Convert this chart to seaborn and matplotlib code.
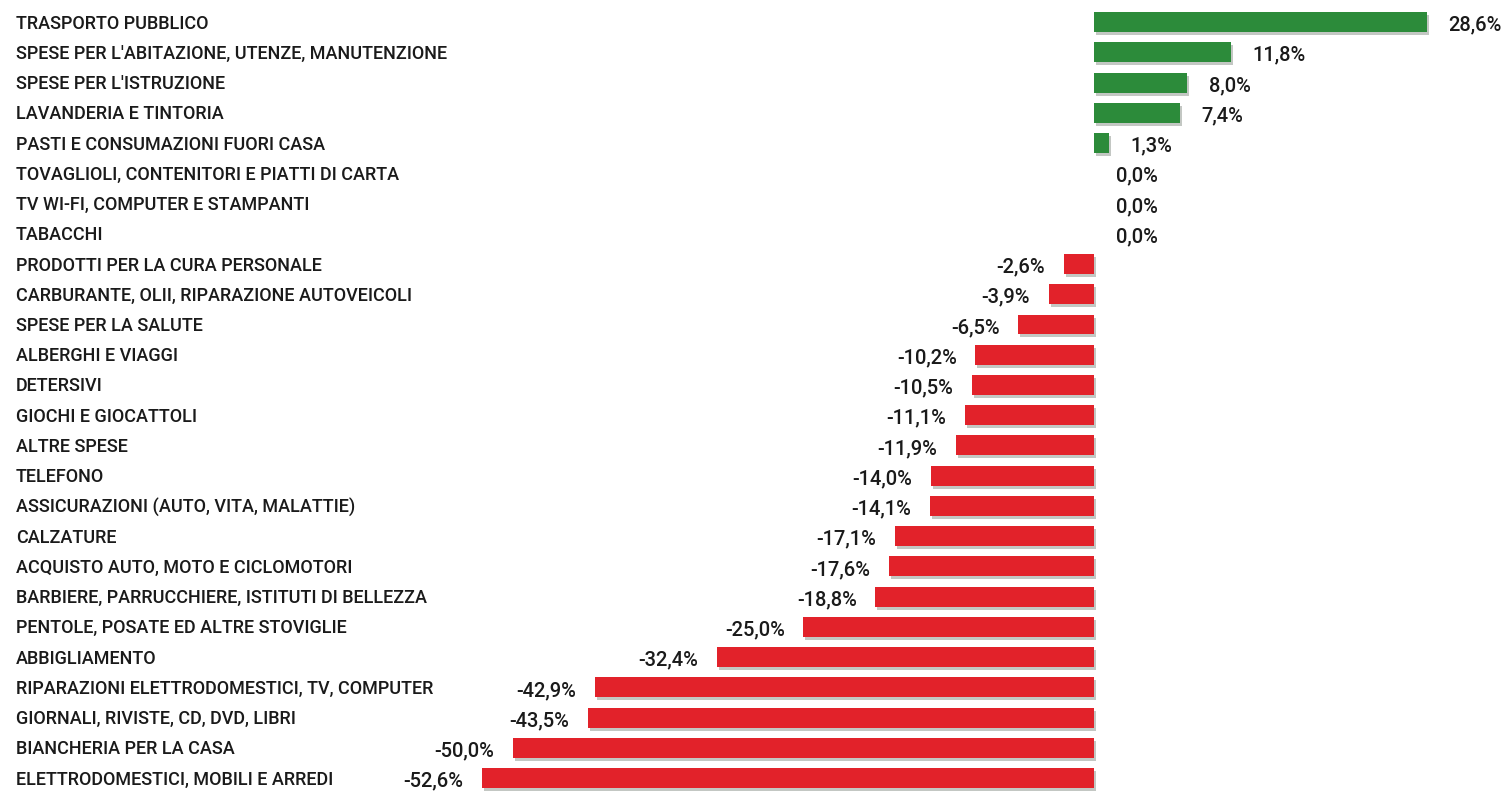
import matplotlib
matplotlib.use("Agg")
import matplotlib.pyplot as plt
import matplotlib.transforms as mtransforms
import pandas as pd
import seaborn as sns

categories = [
    "TRASPORTO PUBBLICO",
    "SPESE PER L'ABITAZIONE, UTENZE, MANUTENZIONE",
    "SPESE PER L'ISTRUZIONE",
    "LAVANDERIA E TINTORIA",
    "PASTI E CONSUMAZIONI FUORI CASA",
    "TOVAGLIOLI, CONTENITORI E PIATTI DI CARTA",
    "TV WI-FI, COMPUTER E STAMPANTI",
    "TABACCHI",
    "PRODOTTI PER LA CURA PERSONALE",
    "CARBURANTE, OLII, RIPARAZIONE AUTOVEICOLI",
    "SPESE PER LA SALUTE",
    "ALBERGHI E VIAGGI",
    "DETERSIVI",
    "GIOCHI E GIOCATTOLI",
    "ALTRE SPESE",
    "TELEFONO",
    "ASSICURAZIONI (AUTO, VITA, MALATTIE)",
    "CALZATURE",
    "ACQUISTO AUTO, MOTO E CICLOMOTORI",
    "BARBIERE, PARRUCCHIERE, ISTITUTI DI BELLEZZA",
    "PENTOLE, POSATE ED ALTRE STOVIGLIE",
    "ABBIGLIAMENTO",
    "RIPARAZIONI ELETTRODOMESTICI, TV, COMPUTER",
    "GIORNALI, RIVISTE, CD, DVD, LIBRI",
    "BIANCHERIA PER LA CASA",
    "ELETTRODOMESTICI, MOBILI E ARREDI",
]
values = [28.6, 11.8, 8.0, 7.4, 1.3, 0.0, 0.0, 0.0, -2.6, -3.9, -6.5, -10.2,
          -10.5, -11.1, -11.9, -14.0, -14.1, -17.1, -17.6, -18.8, -25.0,
          -32.4, -42.9, -43.5, -50.0, -52.6]

df = pd.DataFrame({"voce": categories, "var": values})
df["segno"] = ["pos" if v >= 0 else "neg" for v in values]
colors = {"pos": "#2c8b3a", "neg": "#e2222a"}

font = dict(family=["Roboto", "DejaVu Sans"], fontweight="medium")

fig = plt.figure(figsize=(15.04, 7.92), dpi=100)
ax = fig.add_axes([0, 0, 1, 1])

# ombra grigia sotto le barre
sns.barplot(data=df, y="voce", x="var", color="#c3c7c3", saturation=1,
            orient="h", width=0.66, ax=ax, errorbar=None)
off = mtransforms.ScaledTranslation(2 / 100, -3 / 100, fig.dpi_scale_trans)
for p in ax.patches:
    p.set_transform(ax.transData + off)
    p.set_linewidth(0)

sns.barplot(data=df, y="voce", x="var", hue="segno", palette=colors,
            saturation=1, orient="h", width=0.66, dodge=False, legend=False,
            ax=ax, errorbar=None)

ax.set_xlim(-94.07, 35.25)
ax.set_ylim(25.46, -0.73)
ax.axis("off")

for i, (lab, v) in enumerate(zip(categories, values)):
    ax.text(16 / 1504, i + 0.05, lab, transform=ax.get_yaxis_transform(),
            ha="left", va="center", fontsize=13, color="#1a1a1a", **font)
    txt = f"{v:.1f}%".replace(".", ",")
    if v >= 0:
        ax.text(v + 1.85, i + 0.1, txt, ha="left", va="center",
                fontsize=14.5, color="#1a1a1a", **font)
    else:
        ax.text(v - 1.6, i + 0.1, txt, ha="right", va="center",
                fontsize=14.5, color="#1a1a1a", **font)

fig.savefig("out.png", dpi=100, facecolor="white")
